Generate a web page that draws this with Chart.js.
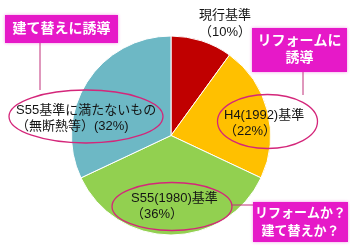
<!DOCTYPE html>
<html><head><meta charset="utf-8">
<script src="https://cdn.jsdelivr.net/npm/chart.js@4"></script>
<style>html,body{margin:0;padding:0;background:#fff;}canvas{display:block;}</style>
</head><body>
<canvas id="c" width="350" height="250"></canvas>
<script>
const categories = ["現行基準", "H4(1992)基準", "S55(1980)基準", "S55基準に満たないもの（無断熱等）"];
const values = [10, 22, 36, 32];
const colors = ["#C00000", "#FFC000", "#92D050", "#6DB8C5"];

const FONT = '"Liberation Sans", "Noto Sans CJK JP", sans-serif';
const MAG = "#E619C8";
const RING = "#D4267A";

function box(ctx, x, y, w, h, lines, size, lh) {
  ctx.save();
  ctx.shadowColor = "rgba(230,25,200,0.45)";
  ctx.shadowBlur = 3;
  ctx.fillStyle = MAG;
  ctx.fillRect(x, y, w, h);
  ctx.restore();
  ctx.save();
  ctx.fillStyle = "#fff";
  ctx.font = "bold " + size + "px " + FONT;
  ctx.textAlign = "center";
  ctx.textBaseline = "middle";
  const cy = y + h / 2 - (lines.length - 1) * lh / 2;
  lines.forEach((t, i) => ctx.fillText(t, x + w / 2, cy + i * lh));
  ctx.restore();
}
function ellipse(ctx, cx, cy, rx, ry) {
  ctx.save();
  ctx.strokeStyle = RING;
  ctx.lineWidth = 1.3;
  ctx.beginPath();
  ctx.ellipse(cx, cy, rx, ry, 0, 0, Math.PI * 2);
  ctx.stroke();
  ctx.restore();
}
function line(ctx, x1, y1, x2, y2) {
  ctx.save();
  ctx.strokeStyle = "#C0307A";
  ctx.lineWidth = 1;
  ctx.beginPath();
  ctx.moveTo(x1, y1); ctx.lineTo(x2, y2);
  ctx.stroke();
  ctx.restore();
}
function text(ctx, lines, x, y, lh, align) {
  ctx.save();
  ctx.fillStyle = "#141414";
  ctx.font = "13px " + FONT;
  ctx.textAlign = align || "left";
  ctx.textBaseline = "middle";
  lines.forEach((t, i) => ctx.fillText(t, x, y + i * lh));
  ctx.restore();
}

const overlay = {
  id: "overlay",
  afterDraw(chart) {
    const ctx = chart.ctx;
    text(ctx, ["現行基準", "（10%）"], 199, 15, 17);
    ellipse(ctx, 86, 116.5, 77, 26.5);
    text(ctx, ["S55基準に満たないもの", "（無断熱等）(32%)"], 16, 110, 16);
    ellipse(ctx, 267.5, 121.5, 50, 27);
    text(ctx, ["H4(1992)基準", "（22%）"], 224, 115, 16);
    ellipse(ctx, 172, 206.5, 60, 24);
    text(ctx, ["S55(1980)基準", "（36%）"], 131, 198, 16);
    line(ctx, 40, 43, 40, 90);
    line(ctx, 303, 72, 303, 95);
    line(ctx, 232, 205, 253, 205);
    box(ctx, 5, 15, 113, 28, ["建て替えに誘導"], 14, 16);
    box(ctx, 252, 28, 95, 44, ["リフォームに", "誘導"], 14, 17);
    box(ctx, 253, 202, 95, 40, ["リフォームか？", "建て替えか？"], 13, 18);
  }
};

new Chart(document.getElementById("c"), {
  type: "pie",
  data: {
    labels: categories,
    datasets: [{ data: values, backgroundColor: colors, borderColor: "#ffffff", borderWidth: 1 }]
  },
  options: {
    responsive: false,
    animation: false,
    layout: { padding: { left: 71, right: 79, top: 35, bottom: 14 } },
    plugins: { legend: { display: false }, tooltip: { enabled: false } }
  },
  plugins: [overlay]
});
</script>
</body></html>
